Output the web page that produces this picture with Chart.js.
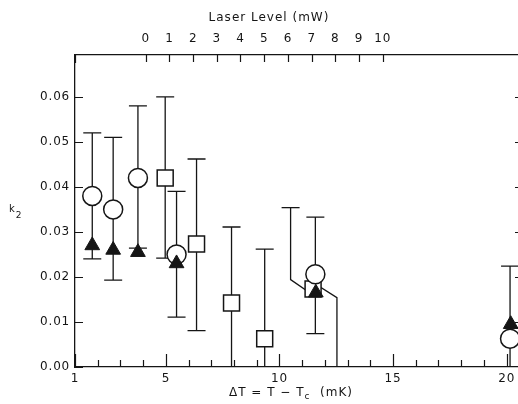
<!DOCTYPE html>
<html>
<head>
<meta charset="utf-8">
<script src="https://cdn.jsdelivr.net/npm/chart.js@4.4.1/dist/chart.umd.min.js"></script>
<style>
  html, body { margin: 0; padding: 0; background: #fff; }
  #wrap { width: 518px; height: 404px; position: relative; }
</style>
</head>
<body>
<div id="wrap"><canvas id="c" width="518" height="404"></canvas></div>
<script>
// ---- data ----
const circleX  = [1.76, 2.68, 3.77, 5.47, 11.58, 20.15];
const circleY  = [0.038, 0.035, 0.042, 0.025, 0.0206, 0.0063];
const circleHi = [0.052, 0.051, 0.058, 0.039, 0.0333, 0.0224];
const circleLo = [0.024, 0.0193, 0.0264, 0.0111, 0.0074, 0];

const triX = [1.76, 2.68, 3.77, 5.47, 11.6, 20.18];
const triY = [0.027, 0.026, 0.0255, 0.023, 0.0165, 0.0095];

const sqX  = [4.97, 6.35, 7.89, 9.35, 11.48];
const sqY  = [0.042, 0.0273, 0.0142, 0.0063, 0.0173];
const sqHi = [0.060, 0.0462, 0.0311, 0.0262, null];
const sqLo = [0.0242, 0.0081, 0, 0, null];

// deflected error bar of the square near 11.5 mK
const bentBarX = [10.49, 10.49, 11.19, 11.84, 12.53, 12.53];
const bentBarY = [0.0354, 0.0194, 0.0170, 0.0176, 0.0154, 0];

const xTickVals = [1, 5, 10, 15, 20];
const xMinorVals = [2,3,4,6,7,8,9,11,12,13,14,16,17,18,19];
const yTickVals = [0, 0.01, 0.02, 0.03, 0.04, 0.05, 0.06];
const laserTickVals = [0,1,2,3,4,5,6,7,8,9,10];

const xTitle = 'ΔT = T − T';
const xTitleSub = 'c';
const xTitleEnd = '  (mK)';
const topTitle = 'Laser Level (mW)';
const yTitle = 'k';
const yTitleSub = '2';

const INK = '#151515';
const FONT = '"DejaVu Sans", "Liberation Sans", sans-serif';

const pts = (xs, ys) => xs.map((x, i) => ({x, y: ys[i]}));

const errorBars = {
  id: 'errorBars',
  beforeDatasetsDraw(chart) {
    const {ctx, scales: {x, y}} = chart;
    ctx.save();
    ctx.strokeStyle = INK;
    ctx.lineWidth = 1.3;
    const cap = 9;
    const draw = (xs, his, los) => {
      xs.forEach((xv, i) => {
        if (his[i] == null) return;
        const px = x.getPixelForValue(xv);
        const ph = y.getPixelForValue(his[i]);
        const pl = y.getPixelForValue(los[i]);
        ctx.beginPath();
        ctx.moveTo(px, ph); ctx.lineTo(px, pl);
        ctx.moveTo(px - cap, ph); ctx.lineTo(px + cap, ph);
        if (los[i] > 0) { ctx.moveTo(px - cap, pl); ctx.lineTo(px + cap, pl); }
        ctx.stroke();
      });
    };
    draw(circleX, circleHi, circleLo);
    draw(sqX, sqHi, sqLo);
    const bx = x.getPixelForValue(bentBarX[0]);
    const by = y.getPixelForValue(bentBarY[0]);
    ctx.beginPath();
    ctx.moveTo(bx - cap, by); ctx.lineTo(bx + cap, by);
    ctx.stroke();
    ctx.restore();
  }
};

const axisDecor = {
  id: 'axisDecor',
  beforeDraw(chart) { chart.ctx.letterSpacing = '0.8px'; },
  afterDraw(chart) {
    const {ctx, chartArea: a, scales: {x, y, x2}} = chart;
    ctx.save();
    ctx.strokeStyle = INK;
    ctx.lineWidth = 1.2;
    ctx.beginPath();
    yTickVals.forEach(v => {
      const py = Math.round(y.getPixelForValue(v)) + 0.5;
      ctx.moveTo(a.left, py); ctx.lineTo(a.left + 8, py);
      if (v > 0) { ctx.moveTo(a.right - 3, py); ctx.lineTo(a.right + 2, py); }
    });
    xTickVals.forEach(v => {
      const px = Math.round(x.getPixelForValue(v)) + 0.5;
      ctx.moveTo(px, a.bottom); ctx.lineTo(px, a.bottom - 13);
    });
    xMinorVals.forEach(v => {
      const px = Math.round(x.getPixelForValue(v)) + 0.5;
      ctx.moveTo(px, a.bottom); ctx.lineTo(px, a.bottom - 7);
    });
    laserTickVals.forEach(v => {
      const px = Math.round(x2.getPixelForValue(v)) + 0.5;
      ctx.moveTo(px, a.top); ctx.lineTo(px, a.top + 7);
    });
    ctx.moveTo(a.left + 0.5, a.top); ctx.lineTo(a.left + 0.5, a.top + 8);
    ctx.stroke();

    ctx.fillStyle = INK;
    ctx.letterSpacing = '1px';
    ctx.textBaseline = 'alphabetic';
    ctx.font = '12px ' + FONT;
    ctx.textAlign = 'center';
    ctx.fillText(topTitle, 269, 21);

    ctx.textAlign = 'left';
    const w1 = ctx.measureText(xTitle).width;
    ctx.font = '9px ' + FONT;
    const w2 = ctx.measureText(xTitleSub).width;
    ctx.font = '12px ' + FONT;
    const w3 = ctx.measureText(xTitleEnd).width;
    let sx = 291 - (w1 + w2 + w3) / 2;
    ctx.fillText(xTitle, sx, 396);
    ctx.font = '9px ' + FONT;
    ctx.fillText(xTitleSub, sx + w1, 399);
    ctx.font = '12px ' + FONT;
    ctx.fillText(xTitleEnd, sx + w1 + w2, 396);

    ctx.font = '10px ' + FONT;
    ctx.fillText(yTitle, 9, 212);
    const wk = ctx.measureText(yTitle).width;
    ctx.font = '9px ' + FONT;
    ctx.fillText(yTitleSub, 9 + wk, 218);
    ctx.restore();
  }
};

const noHPad = s => { s.paddingLeft = 0; s.paddingRight = 0; };

new Chart(document.getElementById('c'), {
  type: 'scatter',
  data: {
    datasets: [
      { label: 'triangles', data: pts(triX, triY), pointStyle: 'triangle', pointRadius: 8.5,
        backgroundColor: INK, borderColor: INK, borderWidth: 1, order: 0 },
      { label: 'circles', data: pts(circleX, circleY), pointStyle: 'circle', pointRadius: 9.5,
        backgroundColor: '#fff', borderColor: INK, borderWidth: 1.5, order: 1 },
      { label: 'squares', data: pts(sqX, sqY), pointStyle: 'rect', pointRadius: 11.3,
        backgroundColor: '#fff', borderColor: INK, borderWidth: 1.5, order: 2 },
      { label: 'bent bar', type: 'line', data: pts(bentBarX, bentBarY), showLine: true,
        pointRadius: 0, borderColor: INK, borderWidth: 1.3, fill: false, tension: 0, order: 3 }
    ]
  },
  options: {
    responsive: false,
    animation: false,
    events: [],
    layout: { padding: 0, autoPadding: false },
    plugins: { legend: { display: false }, tooltip: { enabled: false } },
    scales: {
      x: {
        type: 'linear', position: 'bottom', min: 1, max: 20.5,
        afterBuildTicks: s => { s.ticks = xTickVals.map(v => ({value: v})); },
        afterFit: s => { s.height = 37; noHPad(s); },
        grid: { display: false, drawTicks: false },
        border: { display: true, color: INK, width: 1.3 },
        ticks: { color: INK, font: { family: FONT, size: 12 }, padding: 5,
                 callback: v => String(v), maxRotation: 0, autoSkip: false }
      },
      x2: {
        type: 'linear', position: 'top', min: -2.983, max: 15.709,
        afterBuildTicks: s => { s.ticks = laserTickVals.map(v => ({value: v})); },
        afterFit: s => { s.height = 55; noHPad(s); },
        grid: { display: false, drawTicks: false },
        border: { display: true, color: INK, width: 1.3 },
        ticks: { color: INK, font: { family: FONT, size: 12 }, padding: 9,
                 callback: v => String(v), maxRotation: 0, autoSkip: false }
      },
      y: {
        type: 'linear', position: 'left', min: 0, max: 0.0693,
        afterBuildTicks: s => { s.ticks = yTickVals.map(v => ({value: v})); },
        afterFit: s => { s.width = 75; s.paddingTop = 0; s.paddingBottom = 0; },
        grid: { display: false, drawTicks: false },
        border: { display: true, color: INK, width: 1.3 },
        ticks: { color: INK, font: { family: FONT, size: 12 }, padding: 5,
                 callback: v => v.toFixed(2) }
      }
    }
  },
  plugins: [errorBars, axisDecor]
});
</script>
</body>
</html>
